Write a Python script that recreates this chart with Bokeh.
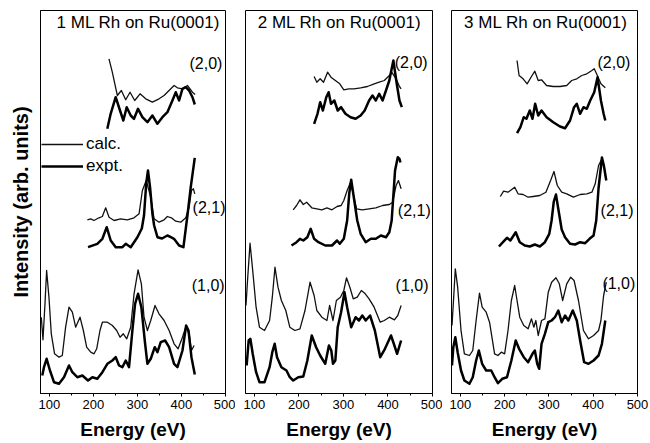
from bokeh.plotting import figure
from bokeh.layouts import row
from bokeh.models import Range1d, FixedTicker, Label, Legend, LegendItem
from bokeh.embed import file_html
from bokeh.resources import INLINE

# ---------------- data (energy in eV, intensity in arb. units, curves offset) ----------------
energy_ticks = [100, 200, 300, 400, 500]
panel_titles = ["1 ML Rh on Ru(0001)", "2 ML Rh on Ru(0001)", "3 ML Rh on Ru(0001)"]
beam_labels = ["(2,0)", "(2,1)", "(1,0)"]

# 1 ML
ml1_20_calc_E = [235.5, 243, 250.7, 254.5, 263.6, 273.4, 283.3, 293.9, 306, 318.9, 334, 349.2, 360.5, 371.9, 383.3, 390.8, 402.2, 413.6, 425, 431]
ml1_20_calc_I = [334.7, 321.3, 305.7, 298, 303, 293.7, 301.3, 293, 299.7, 294.7, 291.3, 294.7, 298, 303, 308, 305.7, 304.7, 308, 301.3, 299]
ml1_20_expt_E = [231.7, 239.3, 250.7, 260.5, 268.1, 275.7, 284.8, 292.3, 301.4, 311.3, 322.7, 334, 345.4, 356.8, 368.1, 379.5, 387.1, 394.7, 402.2, 409.8, 417.4, 425, 430.3]
ml1_20_expt_I = [264.7, 279.7, 296.3, 283, 273, 286.3, 278, 274.7, 284.7, 276.3, 271.3, 278, 269.7, 276.3, 281.3, 293, 301.3, 293, 304.7, 306.3, 303, 296.3, 289]
ml1_21_calc_E = [186.4, 194, 201.4, 212.8, 220.4, 228, 235.6, 247, 262, 277.2, 292.4, 303.8, 311.3, 320, 330.2, 337.8, 349.2, 360.6, 368.1, 377.2, 387, 398.4, 409.8, 417.4, 422.7, 427.2, 430.2]
ml1_21_calc_I = [173.7, 174.7, 173, 175.7, 177, 185.7, 176.3, 173, 174.7, 173.7, 175.7, 179.7, 203, 213, 196.3, 174.7, 171.3, 173.7, 177, 175.7, 172.3, 171.3, 175.7, 186.3, 203, 204.7, 199.7]
ml1_21_expt_E = [187.9, 209, 220.5, 230.3, 239.4, 250.8, 265.9, 273.5, 284.8, 300, 310, 315, 320, 324, 329, 334, 338, 345.5, 356, 368, 376, 383, 394.7, 404.5, 413.6, 421.1, 430.2]
ml1_21_expt_I = [146.3, 149.7, 154.7, 166.3, 153, 146.3, 146.3, 149.7, 146.3, 156.3, 165, 178, 210, 223, 205, 180, 168, 156.3, 155, 158, 156.3, 154.7, 148, 146.3, 178, 206.3, 235.7]
ml1_10_calc_E = [81.8, 85.6, 90.2, 93.9, 99.2, 104.5, 112, 122, 129.5, 137, 144.7, 152.3, 159.8, 169.7, 177.3, 184.8, 194, 201.5, 207.6, 215, 220.5, 231.8, 243.2, 253, 260.6, 268, 275.8, 284.8, 292.4, 301.5, 309, 315, 322.7, 330.3, 340, 349, 360.6, 372, 383.3, 392.4, 402.3, 409.8, 417.4, 422.7, 428.8]
ml1_10_calc_I = [76.3, 53.7, 89.7, 123, 96.3, 59.7, 39.7, 36.3, 38, 66.3, 86.3, 81.3, 66.3, 76.3, 63, 46.3, 41.3, 39.7, 44.7, 63, 71.3, 71.3, 68, 63, 56.3, 59.7, 54.7, 66.3, 99.7, 123.7, 109.7, 76.3, 63, 73, 88, 79.7, 73, 63, 49.7, 44.7, 56.3, 66.3, 59.7, 43, 48]
ml1_10_expt_E = [84, 87.9, 93.9, 101.5, 110.6, 122, 133.3, 144.7, 152.3, 163.6, 175, 187.9, 197.7, 209, 220.5, 231.8, 243.2, 250.8, 258.3, 265.9, 273.5, 281, 288.6, 294.7, 301.5, 309, 316.7, 322.7, 330.3, 339.4, 345.5, 353, 362.9, 372, 383.3, 390.9, 402.3, 410.6, 416, 422.7, 430.3]
ml1_10_expt_I = [18, 26.3, 34.7, 23, 11.3, 9.7, 16.3, 28, 21.3, 16.3, 18, 13, 16.3, 14.7, 21.3, 29.7, 33, 36.3, 28, 26.3, 33, 26.3, 63, 89.7, 99.7, 86.3, 53, 29.7, 34.7, 46.3, 41.3, 51.3, 53, 46.3, 29.7, 26.3, 43, 68, 63, 36.3, 19]

# 2 ML
ml2_20_calc_E = [234.1, 240.2, 247.7, 255.3, 264.4, 272, 281.8, 291.7, 300.8, 312.1, 323.5, 338.6, 353.8, 369, 380.3, 391.7, 403, 408.3, 418.2, 425.8, 429.5]
ml2_20_calc_I = [317, 311.3, 314.7, 311.3, 321.3, 316.3, 313, 309.7, 303.7, 304.7, 304.7, 305.7, 307, 309.7, 311.3, 313, 318, 321.3, 314.7, 307, 304.7]
ml2_20_expt_E = [234.1, 241.7, 247.7, 253.8, 261.4, 266.7, 272, 279.5, 287.1, 294.7, 304.5, 315.9, 327.3, 338.6, 347.7, 357.6, 365.2, 372.7, 380.3, 387.9, 395.5, 403, 412.1, 419.7, 425.8, 431.1]
ml2_20_expt_I = [269.7, 279.7, 291.3, 283, 296.3, 301.3, 289.7, 293, 283, 286.3, 279.7, 276.3, 274.7, 278, 283, 293, 298, 293, 299.7, 293, 303, 313, 333, 309.7, 293, 286.3]
ml2_21_calc_E = [187.1, 194.7, 202.3, 209.8, 217.4, 228.8, 240.2, 251.5, 262.9, 274.2, 285.6, 294.7, 300.8, 308.3, 315.9, 323.5, 329.5, 342.4, 357.6, 372.7, 387.9, 403, 410.6, 418.2, 423.5, 429.5]
ml2_21_calc_I = [183.7, 188, 193.7, 189, 191.3, 185.7, 184.7, 183.7, 185.7, 183.7, 187, 188, 193, 203, 211.3, 196.3, 184.7, 183.7, 184.7, 185.7, 188, 189, 191.3, 208, 213, 204.7]
ml2_21_expt_E = [183.3, 194.7, 202.3, 209.8, 218.9, 226.5, 234.1, 243.9, 259.1, 274.2, 285.6, 291.7, 300.8, 308.3, 313, 317.4, 322, 331, 338.6, 350, 361.4, 372.7, 384.1, 395.5, 403, 408.3, 415.9, 422, 425.8, 428]
ml2_21_expt_I = [148, 151.3, 154.7, 153, 156.3, 164.7, 154.7, 151.3, 148, 148, 153, 149.7, 154.7, 173, 200, 213.7, 200, 173, 159.7, 151.3, 154.7, 154.7, 158, 156.3, 161.3, 173, 223, 236.3, 234.7, 231]
ml2_10_calc_E = [81.1, 84.8, 90.2, 96.2, 103.8, 111.4, 122.7, 134.1, 140.2, 146.2, 153, 160.6, 170.5, 179.5, 190.9, 202.3, 213.6, 225, 234.1, 240.2, 251.5, 262.9, 268.9, 276.5, 284.1, 293.2, 300.8, 306.8, 314.4, 322, 331, 340.2, 347.7, 357.6, 368.9, 382.6, 391.7, 403, 414.4, 422, 429.5]
ml2_10_calc_I = [88, 114.7, 150.3, 123, 86.3, 66.3, 63, 73, 96.3, 126.3, 106.3, 93, 83, 66.3, 63, 64.7, 83, 111.3, 98, 83, 76.3, 73, 88, 73, 93, 96.3, 103, 115.7, 106.3, 94.7, 96.3, 103, 100.3, 94.7, 86.3, 71.3, 73, 76.3, 73.7, 78, 88]
ml2_10_expt_E = [82.6, 87.1, 90.9, 96.2, 103.8, 111.4, 122.7, 134.1, 140.2, 145.5, 150.8, 160.6, 172, 179.5, 187.1, 198.5, 209.8, 218.9, 228.8, 238.6, 247.7, 259.1, 267.4, 272.7, 276.5, 281.8, 287.1, 294.7, 302.3, 308.3, 317.4, 327.3, 334.8, 342.4, 350, 359.8, 370.5, 382.6, 393.2, 406.8, 414.4, 420.5, 429.5]
ml2_10_expt_I = [28, 53, 54.7, 39.7, 21.3, 11.3, 11.3, 26.3, 41.3, 49.7, 36.3, 26.3, 23, 16.3, 13, 16.3, 17, 33, 58, 46.3, 38, 29.7, 48, 43, 29.7, 33, 66.3, 81.3, 101.3, 86.3, 66.3, 76.3, 73, 78, 73, 78, 63, 36.3, 44.7, 58, 48, 39.7, 53]

# 3 ML
ml3_20_calc_E = [228, 232.6, 241.7, 250.8, 260.6, 268.2, 275.8, 283.3, 294.7, 309.8, 325, 340.2, 351.5, 362.9, 374.2, 385.6, 397, 402.3, 408.3, 417.4, 427.3]
ml3_20_calc_I = [333, 318, 314.7, 309.7, 317, 322.3, 313, 313.7, 308, 307, 307, 308, 313, 314.7, 318, 319.7, 323, 324.7, 319, 309.7, 305.7]
ml3_20_expt_E = [228, 235.6, 243.2, 249.2, 256.8, 262.9, 268.9, 275.8, 283.3, 294.7, 309.8, 325, 336.4, 347.7, 356.8, 362.9, 370.5, 378, 385.6, 393.2, 402.3, 409.8, 417.4, 423.5, 427.3]
ml3_20_expt_I = [260.3, 266.3, 276.3, 274.7, 283, 274.7, 289.7, 278, 283, 276.3, 271.3, 267, 265.3, 273, 286.3, 289.7, 279.7, 286.3, 284.7, 293, 301.3, 316.3, 293, 279.7, 273]
ml3_21_calc_E = [190.2, 197.7, 207.6, 215.2, 222.7, 230.3, 241.7, 253, 264.4, 279.5, 293.2, 303.8, 311.4, 318.9, 328.8, 340.2, 355.3, 370.5, 385.6, 397, 404.5, 412.1, 419.7, 425, 428]
ml3_21_calc_I = [197, 202.3, 201.3, 203.7, 206.3, 199.7, 199, 196.3, 197, 198, 201.3, 213, 222, 208, 201.3, 199.7, 196.3, 199, 199.7, 201.3, 209.7, 228, 234.7, 226.3, 216.3]
ml3_21_expt_E = [187.1, 196.2, 205.3, 212.9, 225, 234.1, 245.5, 256.8, 268.2, 279.5, 290.9, 300.8, 306, 311, 315.9, 321, 328.8, 336.4, 347.7, 359.1, 370.5, 381.8, 391.7, 400.8, 406.8, 412, 419.7, 424, 429.5]
ml3_21_expt_I = [147, 151.3, 155.7, 153, 161.3, 151.3, 148, 147, 149, 147, 151.3, 159.7, 173, 192, 199, 185, 164, 156.3, 149.7, 149, 151.3, 150.3, 154.7, 158, 173, 205, 236, 228, 213]
ml3_10_calc_E = [81.1, 84.1, 88.6, 93.9, 101.5, 109.1, 120.5, 128, 135.6, 143.2, 149.2, 158.3, 165.9, 177.3, 184.8, 192.4, 200, 207.6, 215.2, 222.7, 228, 234.1, 243.2, 253, 260.6, 265.9, 270.5, 275.8, 283.3, 290.9, 298.5, 306.1, 315.9, 323.5, 331, 340.2, 349.2, 356.8, 366.7, 378, 389.4, 400.8, 412.1, 417.4, 423.5, 429.5]
ml3_10_calc_I = [68, 89.7, 124.7, 106.3, 63, 39.7, 38, 43, 73, 100.3, 86.3, 81.3, 71.3, 39.7, 38, 41.3, 39.7, 63, 93, 108, 93, 76.3, 68, 64.7, 74.7, 66.3, 73, 58, 73, 74.7, 101.3, 111.3, 115.7, 109.7, 93, 109.7, 116.3, 113, 93, 63, 54.7, 58, 63, 73, 98, 111.3]
ml3_10_expt_E = [81.1, 84.1, 88.6, 93.9, 101.5, 109.1, 120.5, 128, 135.6, 141.7, 149.2, 158.3, 169.7, 177.3, 184.8, 194.7, 205.3, 215.2, 225, 232.6, 243.2, 253, 262.9, 268.2, 273.5, 278, 283.3, 290.9, 298.5, 306.1, 313.6, 321.2, 328.8, 336.4, 343.9, 353.8, 362.9, 370.5, 379.5, 389.4, 400.8, 412.1, 419.7, 427.3]
ml3_10_expt_I = [28, 46.3, 56.3, 41.3, 23, 13, 9.7, 16.3, 33, 43, 29.7, 23, 23, 16.3, 10.3, 14.7, 16.3, 33, 53, 44.7, 36.3, 31.3, 39.7, 43, 29.7, 24.7, 49.7, 59.7, 71.3, 73, 76.3, 83, 71.3, 78, 73, 83, 73, 53, 31.3, 29.7, 33, 38, 49.7, 73]

# ---------------- layout / style ----------------
FONT = "Liberation Sans"
H = 443
panel_geom = [  # width, min_border_left, min_border_right
    (235, 40, 10),
    (207, 10, 10),
    (208, 9, 13),
]
title_x = [302, 291, 293]
label_pos = [  # (x, y) in data units for (2,0), (2,1), (1,0)
    [(493, 330), (500, 186), (498, 108)],
    [(489, 331), (496, 183), (491, 108)],
    [(484, 331), (491, 183), (495, 110)],
]

curves = [
    [(ml1_20_calc_E, ml1_20_calc_I, ml1_20_expt_E, ml1_20_expt_I),
     (ml1_21_calc_E, ml1_21_calc_I, ml1_21_expt_E, ml1_21_expt_I),
     (ml1_10_calc_E, ml1_10_calc_I, ml1_10_expt_E, ml1_10_expt_I)],
    [(ml2_20_calc_E, ml2_20_calc_I, ml2_20_expt_E, ml2_20_expt_I),
     (ml2_21_calc_E, ml2_21_calc_I, ml2_21_expt_E, ml2_21_expt_I),
     (ml2_10_calc_E, ml2_10_calc_I, ml2_10_expt_E, ml2_10_expt_I)],
    [(ml3_20_calc_E, ml3_20_calc_I, ml3_20_expt_E, ml3_20_expt_I),
     (ml3_21_calc_E, ml3_21_calc_I, ml3_21_expt_E, ml3_21_expt_I),
     (ml3_10_calc_E, ml3_10_calc_I, ml3_10_expt_E, ml3_10_expt_I)],
]

figs = []
for i in range(3):
    w, bl, br = panel_geom[i]
    p = figure(width=w, height=H, x_range=Range1d(80, 500), y_range=Range1d(0, 383),
               output_backend="svg", toolbar_location=None,
               min_border_left=bl, min_border_right=br, min_border_top=10, min_border_bottom=50,
               y_axis_location="left" if i == 0 else None)
    p.grid.visible = False
    p.outline_line_color = "black"
    p.outline_line_width = 1
    p.background_fill_color = "white"
    p.border_fill_color = "white"

    ax = p.xaxis[0]
    ax.ticker = FixedTicker(ticks=energy_ticks, minor_ticks=[150, 250, 350, 450])
    ax.axis_label = "Energy (eV)"
    ax.axis_label_text_font = FONT
    ax.axis_label_text_font_style = "bold"
    ax.axis_label_text_font_size = "19px"
    ax.axis_label_text_color = "black"
    ax.axis_label_standoff = 7
    ax.major_label_text_font = FONT
    ax.major_label_text_font_size = "13px"
    ax.major_label_text_color = "black"
    ax.major_label_standoff = 3
    ax.major_tick_in = 0
    ax.major_tick_out = 3
    ax.minor_tick_in = 0
    ax.minor_tick_out = 2
    ax.axis_line_color = "black"
    ax.major_tick_line_color = "black"
    ax.minor_tick_line_color = "black"

    if i == 0:
        ay = p.yaxis[0]
        ay.ticker = FixedTicker(ticks=[])
        ay.major_label_text_font_size = "0px"
        ay.major_tick_line_color = None
        ay.minor_tick_line_color = None
        ay.axis_line_color = "black"
        ay.axis_label = "Intensity (arb. units)"
        ay.axis_label_text_font = FONT
        ay.axis_label_text_font_style = "bold"
        ay.axis_label_text_font_size = "20px"
        ay.axis_label_text_color = "black"
        ay.axis_label_standoff = 9
        ay.major_label_standoff = 0

    first_pair = None
    for j, (cE, cI, eE, eI) in enumerate(curves[i]):
        rc = p.line(cE, cI, line_color="#111111", line_width=1.3, line_join="round")
        re = p.line(eE, eI, line_color="black", line_width=2.5, line_join="round")
        if j == 0:
            first_pair = (rc, re)
        lx, ly = label_pos[i][j]
        p.add_layout(Label(x=lx, y=ly, text=beam_labels[j], text_align="right",
                           text_baseline="middle", text_font=FONT, text_font_size="16px",
                           text_color="black"))

    p.add_layout(Label(x=title_x[i], y=371, text=panel_titles[i], text_align="center",
                       text_baseline="middle", text_font=FONT, text_font_size="17px",
                       text_color="black"))

    if i == 0:
        legend = Legend(items=[LegendItem(label="calc.", renderers=[first_pair[0]]),
                               LegendItem(label="expt.", renderers=[first_pair[1]])],
                        location=(1, 217), padding=0, margin=0, spacing=2,
                        glyph_width=42, glyph_height=18, label_height=18, label_standoff=3,
                        label_text_font=FONT, label_text_font_size="17px",
                        label_text_color="black",
                        border_line_color=None, background_fill_alpha=0)
        p.add_layout(legend)
    figs.append(p)

layout = row(*figs)
open("out.html", "w").write(file_html(layout, INLINE))
